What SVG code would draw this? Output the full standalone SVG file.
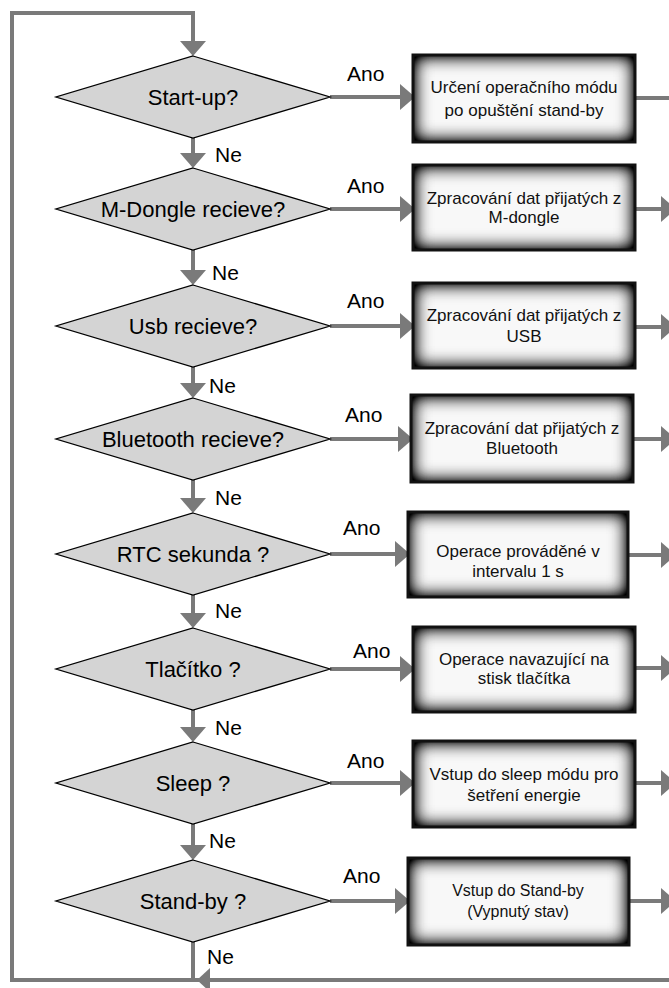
<svg xmlns="http://www.w3.org/2000/svg" width="669" height="988" viewBox="0 0 669 988">
<style>
.dia{fill:#d4d4d4;stroke:#000;stroke-width:1.3;stroke-linejoin:miter}
.dt{font-family:"Liberation Sans",Arial,sans-serif;font-size:22px;fill:#000;text-anchor:middle}
.lbl{font-family:"Liberation Sans",Arial,sans-serif;font-size:21px;fill:#000}
.bx{fill:#f8f8f8;filter:url(#inner)}
.bb{fill:none;stroke:#111;stroke-width:3}
.bt{font-family:"Liberation Sans",Arial,sans-serif;font-size:17px;fill:#111;text-anchor:middle}
.cn{fill:none;stroke:#7a7a7a;stroke-width:4}
.ah{fill:#7a7a7a}
</style>
<defs>
<filter id="inner" x="-30%" y="-60%" width="160%" height="220%" color-interpolation-filters="sRGB">
<feFlood flood-color="#000" flood-opacity="1" result="f"/>
<feComposite in="f" in2="SourceAlpha" operator="out" result="o"/>
<feGaussianBlur in="o" stdDeviation="9" result="b"/>
<feComposite in="b" in2="SourceAlpha" operator="in" result="s"/>
<feComponentTransfer in="s" result="s2"><feFuncA type="linear" slope="1.6"/></feComponentTransfer>
<feMerge><feMergeNode in="SourceGraphic"/><feMergeNode in="s2"/></feMerge>
</filter>
<marker id="arr" viewBox="0 0 15 26" refX="0" refY="13" markerWidth="15" markerHeight="26" markerUnits="userSpaceOnUse" orient="auto">
<path d="M0,0 L15,13 L0,26 Z" fill="#7a7a7a"/>
</marker>
</defs>

<g id="connectors">
<path class="cn" d="M675 980 H12 V13 H193 V41" marker-end="url(#arr)"/>
<polygon class="ah" points="197,980 210,968 210,992"/>
<line class="cn" x1="193" y1="138" x2="193" y2="153" marker-end="url(#arr)"/>
<line class="cn" x1="193" y1="250" x2="193" y2="270" marker-end="url(#arr)"/>
<line class="cn" x1="193" y1="367" x2="193" y2="383" marker-end="url(#arr)"/>
<line class="cn" x1="193" y1="480" x2="193" y2="498" marker-end="url(#arr)"/>
<line class="cn" x1="193" y1="595" x2="193" y2="613" marker-end="url(#arr)"/>
<line class="cn" x1="193" y1="710" x2="193" y2="727" marker-end="url(#arr)"/>
<line class="cn" x1="193" y1="824" x2="193" y2="845" marker-end="url(#arr)"/>
<line class="cn" x1="193" y1="942" x2="193" y2="980"/>

<line class="cn" x1="330" y1="97" x2="400" y2="97" marker-end="url(#arr)"/>
<line class="cn" x1="330" y1="209" x2="400" y2="209" marker-end="url(#arr)"/>
<line class="cn" x1="330" y1="326" x2="400" y2="326" marker-end="url(#arr)"/>
<line class="cn" x1="330" y1="439" x2="398" y2="439" marker-end="url(#arr)"/>
<line class="cn" x1="330" y1="554" x2="395" y2="554" marker-end="url(#arr)"/>
<line class="cn" x1="330" y1="669" x2="400" y2="669" marker-end="url(#arr)"/>
<line class="cn" x1="330" y1="783" x2="400" y2="783" marker-end="url(#arr)"/>
<line class="cn" x1="330" y1="901" x2="395" y2="901" marker-end="url(#arr)"/>

<line class="cn" x1="635" y1="98" x2="675" y2="98"/>
<line class="cn" x1="635" y1="209" x2="661" y2="209" marker-end="url(#arr)"/>
<line class="cn" x1="635" y1="327" x2="661" y2="327" marker-end="url(#arr)"/>
<line class="cn" x1="633" y1="439" x2="661" y2="439" marker-end="url(#arr)"/>
<line class="cn" x1="628" y1="555" x2="661" y2="555" marker-end="url(#arr)"/>
<line class="cn" x1="635" y1="668" x2="661" y2="668" marker-end="url(#arr)"/>
<line class="cn" x1="635" y1="783" x2="661" y2="783" marker-end="url(#arr)"/>
<line class="cn" x1="629" y1="901" x2="661" y2="901" marker-end="url(#arr)"/>

<text class="lbl" x="347" y="81">Ano</text>
<text class="lbl" x="347" y="193">Ano</text>
<text class="lbl" x="347" y="308">Ano</text>
<text class="lbl" x="345" y="422">Ano</text>
<text class="lbl" x="343" y="535">Ano</text>
<text class="lbl" x="353" y="658">Ano</text>
<text class="lbl" x="347" y="768">Ano</text>
<text class="lbl" x="343" y="883">Ano</text>

<text class="lbl" x="215" y="162">Ne</text>
<text class="lbl" x="212" y="280">Ne</text>
<text class="lbl" x="209" y="393">Ne</text>
<text class="lbl" x="215" y="505">Ne</text>
<text class="lbl" x="215" y="618">Ne</text>
<text class="lbl" x="215" y="735">Ne</text>
<text class="lbl" x="209" y="848">Ne</text>
<text class="lbl" x="207" y="964">Ne</text>
</g>

<g id="d1"><polygon class="dia" points="193,56 330,97 193,138 56,97"/><text class="dt" x="193" y="105">Start-up?</text></g>
<g id="d2"><polygon class="dia" points="193,168 330,209 193,250 56,209"/><text class="dt" x="193" y="217">M-Dongle recieve?</text></g>
<g id="d3"><polygon class="dia" points="193,285 330,326 193,367 56,326"/><text class="dt" x="193" y="334">Usb recieve?</text></g>
<g id="d4"><polygon class="dia" points="193,398 330,439 193,480 56,439"/><text class="dt" x="193" y="447">Bluetooth recieve?</text></g>
<g id="d5"><polygon class="dia" points="193,513 330,554 193,595 56,554"/><text class="dt" x="193" y="562">RTC sekunda ?</text></g>
<g id="d6"><polygon class="dia" points="193,628 330,669 193,710 56,669"/><text class="dt" x="193" y="677">Tlačítko ?</text></g>
<g id="d7"><polygon class="dia" points="193,742 330,783 193,824 56,783"/><text class="dt" x="193" y="791">Sleep ?</text></g>
<g id="d8"><polygon class="dia" points="193,860 330,901 193,942 56,901"/><text class="dt" x="193" y="909">Stand-by ?</text></g>

<g id="b1"><rect class="bx" x="413" y="55" width="222" height="87"/><rect class="bb" x="413" y="55" width="222" height="87"/>
<text class="bt" x="524" y="93">Určení operačního módu</text><text class="bt" x="524" y="116">po opuštění stand-by</text></g>
<g id="b2"><rect class="bx" x="413" y="165" width="222" height="85"/><rect class="bb" x="413" y="165" width="222" height="85"/>
<text class="bt" x="524" y="204">Zpracování dat přijatých z</text><text class="bt" x="524" y="223">M-dongle</text></g>
<g id="b3"><rect class="bx" x="413" y="283" width="222" height="85"/><rect class="bb" x="413" y="283" width="222" height="85"/>
<text class="bt" x="524" y="321">Zpracování dat přijatých z</text><text class="bt" x="524" y="342">USB</text></g>
<g id="b4"><rect class="bx" x="411" y="395" width="222" height="87"/><rect class="bb" x="411" y="395" width="222" height="87"/>
<text class="bt" x="522" y="434">Zpracování dat přijatých z</text><text class="bt" x="522" y="454">Bluetooth</text></g>
<g id="b5"><rect class="bx" x="408" y="512" width="220" height="85"/><rect class="bb" x="408" y="512" width="220" height="85"/>
<text class="bt" x="518" y="557">Operace prováděné v</text><text class="bt" x="518" y="577">intervalu 1 s</text></g>
<g id="b6"><rect class="bx" x="413" y="627" width="222" height="85"/><rect class="bb" x="413" y="627" width="222" height="85"/>
<text class="bt" x="524" y="665">Operace navazující na</text><text class="bt" x="524" y="684">stisk tlačítka</text></g>
<g id="b7"><rect class="bx" x="413" y="741" width="222" height="86"/><rect class="bb" x="413" y="741" width="222" height="86"/>
<text class="bt" x="524" y="780">Vstup do sleep módu pro</text><text class="bt" x="524" y="801">šetření energie</text></g>
<g id="b8"><rect class="bx" x="408" y="858" width="221" height="87"/><rect class="bb" x="408" y="858" width="221" height="87"/>
<text class="bt" x="518" y="896" style="font-size:16px">Vstup do Stand-by</text><text class="bt" x="518" y="917" style="font-size:16px">(Vypnutý stav)</text></g>
</svg>
